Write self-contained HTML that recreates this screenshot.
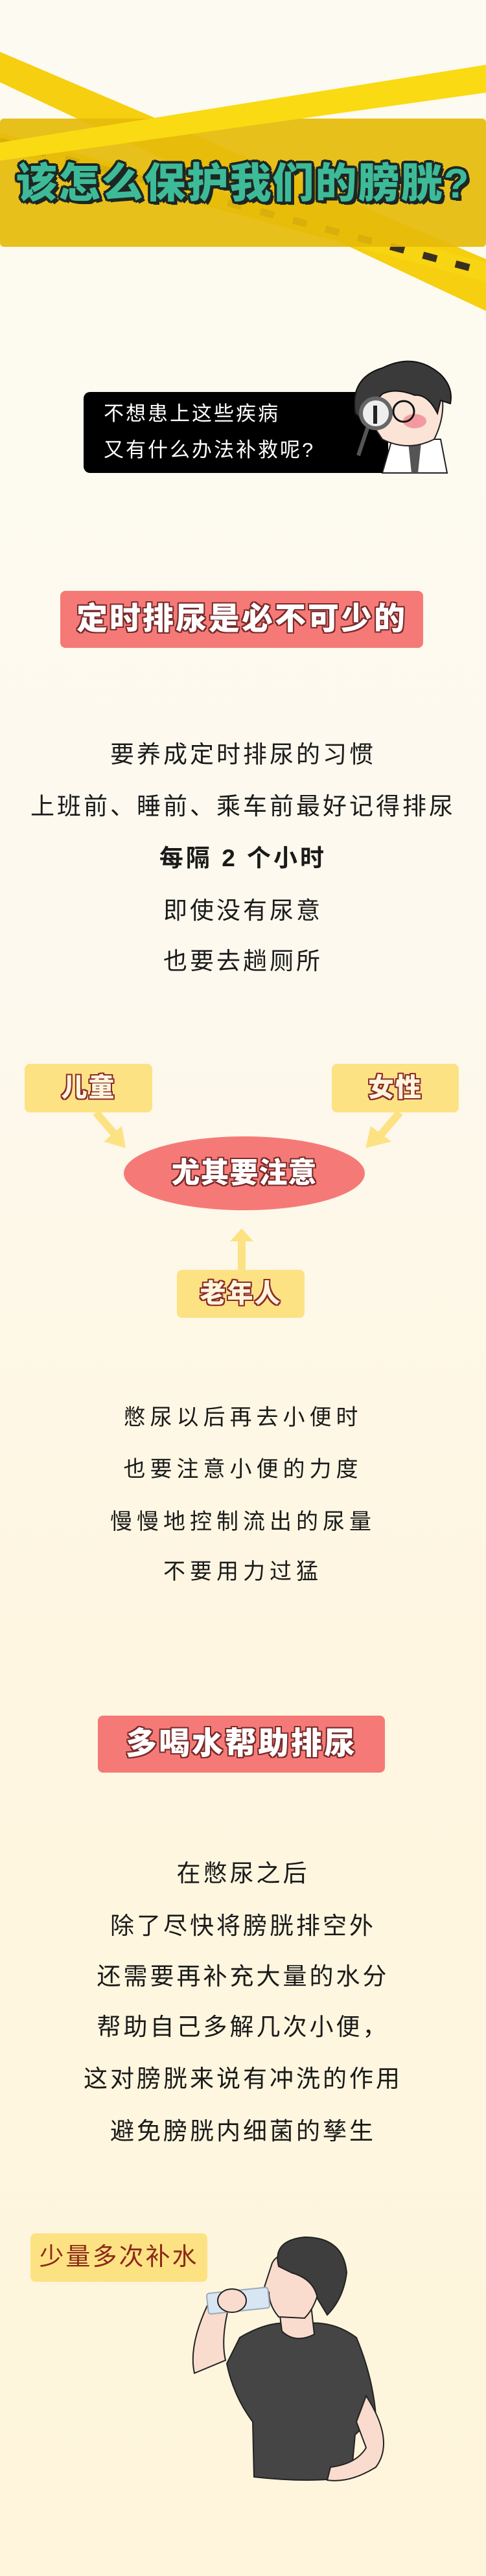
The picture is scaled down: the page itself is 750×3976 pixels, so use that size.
<!DOCTYPE html>
<html><head><meta charset="utf-8">
<style>
*{margin:0;padding:0;box-sizing:border-box}
body{width:750px;height:3976px;position:relative;overflow:hidden;background:linear-gradient(#fdfaf1 0,#fdf9ee 1500px,#fef6e0 2600px,#fef5dc 3976px);font-family:"Liberation Sans","Noto Sans CJK SC",sans-serif}
.abs{position:absolute}
.t{position:absolute;left:0;width:750px;text-align:center;color:#1a1a1a;font-size:37px;letter-spacing:4px;line-height:50px}
.hdr{position:absolute;background:#f57a77;border-radius:8px;color:#fff;font-weight:900;font-size:48px;letter-spacing:3px;text-align:center;
text-shadow:2px 0 #7a2a2a,-2px 0 #7a2a2a,0 2px #7a2a2a,0 -2px #7a2a2a,2px 2px #7a2a2a,-2px -2px #7a2a2a,2px -2px #7a2a2a,-2px 2px #7a2a2a}
.yb{position:absolute;background:#fde283;border-radius:8px;text-align:center;font-weight:900;font-size:40px;color:#fff5dc;letter-spacing:2px;
text-shadow:2px 0 #8a2b2b,-2px 0 #8a2b2b,0 2px #8a2b2b,0 -2px #8a2b2b,2px 2px #8a2b2b,-2px -2px #8a2b2b,2px -2px #8a2b2b,-2px 2px #8a2b2b}
</style></head><body>

<svg class="abs" style="left:0;top:0" width="750" height="760">
  <!-- tapes -->
  <polygon points="0,80 750,400 750,480 0,127" fill="#f5cf10"/>
  <polygon points="0,205 750,405 750,435 0,232" fill="#f7d512"/>
  <g stroke="#3a3020" stroke-width="11" stroke-dasharray="22 30">
    <line x1="0" y1="218" x2="750" y2="420"/>
  </g>
  <rect x="0" y="183" width="750" height="198" rx="6" fill="#e6bb0a" opacity="0.92"/>
  <polygon points="0,220 750,100 750,143 0,248" fill="#fada12"/>
  <!-- speech box -->
  <rect x="129" y="605" width="470" height="125" rx="10" fill="#000"/>
  <text x="160" y="649" fill="#fff" font-size="31" font-family="Liberation Sans,Noto Sans CJK SC,sans-serif" letter-spacing="3">不想患上这些疾病</text>
  <text x="160" y="705" fill="#fff" font-size="31" font-family="Liberation Sans,Noto Sans CJK SC,sans-serif" letter-spacing="3">又有什么办法补救呢?</text>
  <!-- doctor -->
  <g transform="translate(0,38)">
  <polygon points="590,692 605,640 680,640 690,692" fill="#fff" stroke="#222" stroke-width="2"/>
  <polygon points="630,645 650,645 645,692 635,692" fill="#555"/>
  <path d="M570,610 Q565,560 600,555 L680,560 Q690,600 670,640 Q630,660 590,640 Z" fill="#fbe3d6" stroke="#222" stroke-width="2"/>
  <ellipse cx="640" cy="612" rx="18" ry="11" fill="#f29aa0"/>
  <path d="M548,600 Q540,545 590,530 Q640,505 680,540 Q700,560 695,585 L680,580 L675,600 Q660,570 640,572 Q610,560 590,570 Q575,585 560,612 Z" fill="#3a3a3a" stroke="#111" stroke-width="2"/>
  <circle cx="623" cy="597" r="16" fill="none" stroke="#111" stroke-width="3"/>
  <line x1="568" y1="620" x2="553" y2="665" stroke="#555" stroke-width="6"/>
  <circle cx="580" cy="600" r="23" fill="#eee" stroke="#666" stroke-width="6"/>
  <rect x="576" y="588" width="6" height="28" fill="#222"/>
  </g>
</svg>

<div class="abs" style="left:0;top:246px;width:750px;text-align:center;font-size:64px;font-weight:900;letter-spacing:2px;color:#3dbb98;line-height:74px;
text-shadow:4px 0 #1e2623,-4px 0 #1e2623,0 4px #1e2623,0 -4px #1e2623,3px 3px #1e2623,-3px -3px #1e2623,3px -3px #1e2623,-3px 3px #1e2623,5px 5px #1e2623">该怎么保护我们的膀胱?</div>

<div class="hdr" style="left:93px;top:912px;width:560px;height:88px;line-height:88px">定时排尿是必不可少的</div>

<div class="t" style="top:1140px">要养成定时排尿的习惯</div>
<div class="t" style="top:1220px">上班前、睡前、乘车前最好记得排尿</div>
<div class="t" style="top:1300px;font-weight:bold">每隔 2 个小时</div>
<div class="t" style="top:1381px">即使没有尿意</div>
<div class="t" style="top:1459px">也要去趟厕所</div>

<svg class="abs" style="left:0;top:1620px" width="750" height="420">
  <path d="M148,97 L178,132" stroke="#fde283" stroke-width="12"/>
  <polygon points="160,142 194,152 188,118" fill="#fde283"/>
  <path d="M617,97 L587,132" stroke="#fde283" stroke-width="12"/>
  <polygon points="604,142 564,152 572,118" fill="#fde283"/>
  <rect x="367" y="290" width="12" height="52" fill="#fde283"/>
  <polygon points="355,296 391,296 373,276" fill="#fde283"/>
  <ellipse cx="377" cy="191" rx="186" ry="57" fill="#f57a77"/>
</svg>
<div class="yb" style="left:38px;top:1642px;width:197px;height:75px;line-height:75px">儿童</div>
<div class="yb" style="left:512px;top:1642px;width:196px;height:75px;line-height:75px">女性</div>
<div class="yb" style="left:273px;top:1960px;width:197px;height:74px;line-height:74px">老年人</div>
<div class="abs" style="left:191px;top:1783px;width:372px;text-align:center;line-height:56px;font-size:44px;font-weight:900;color:#fff;letter-spacing:1px;
text-shadow:2px 0 #7a2a2a,-2px 0 #7a2a2a,0 2px #7a2a2a,0 -2px #7a2a2a,2px 2px #7a2a2a,-2px -2px #7a2a2a,2px -2px #7a2a2a,-2px 2px #7a2a2a">尤其要注意</div>

<div class="t" style="top:2163px;font-size:34px;letter-spacing:7px">憋尿以后再去小便时</div>
<div class="t" style="top:2243px;font-size:34px;letter-spacing:7px">也要注意小便的力度</div>
<div class="t" style="top:2324px;font-size:34px;letter-spacing:7px">慢慢地控制流出的尿量</div>
<div class="t" style="top:2401px;font-size:34px;letter-spacing:7px">不要用力过猛</div>

<div class="hdr" style="left:151px;top:2648px;width:443px;height:88px;line-height:88px">多喝水帮助排尿</div>

<div class="t" style="top:2867px">在憋尿之后</div>
<div class="t" style="top:2948px">除了尽快将膀胱排空外</div>
<div class="t" style="top:3026px">还需要再补充大量的水分</div>
<div class="t" style="top:3104px">帮助自己多解几次小便，</div>
<div class="t" style="top:3184px">这对膀胱来说有冲洗的作用</div>
<div class="t" style="top:3265px">避免膀胱内细菌的孳生</div>

<div class="abs" style="left:47px;top:3447px;width:273px;height:75px;background:#fde283;border-radius:8px;text-align:center;line-height:75px;font-size:38px;color:#8b2a1a;letter-spacing:3px">少量多次补水</div>

<svg class="abs" style="left:280px;top:3438px" width="340" height="420">
  <path d="M20,225 Q10,180 45,110 L75,115 Q60,170 68,205 Z" fill="#f9dccd" stroke="#222" stroke-width="2"/>
  <path d="M90,170 Q140,140 180,150 Q230,140 270,170 Q295,230 300,290 L268,320 L262,385 Q200,395 112,385 L110,300 Q80,260 70,210 Z" fill="#454545" stroke="#222" stroke-width="2"/>
  <path d="M285,260 Q330,330 300,370 Q260,395 225,390 L230,370 Q270,365 285,340 L270,300 Z" fill="#f9dccd" stroke="#222" stroke-width="2"/>
  <path d="M150,120 L200,120 L205,165 Q175,180 155,160 Z" fill="#f9dccd" stroke="#222" stroke-width="2"/>
  <path d="M140,55 Q150,35 190,40 L215,80 Q210,120 190,140 L150,138 Q135,120 135,100 L128,92 Z" fill="#f9dccd" stroke="#222" stroke-width="2"/>
  <path d="M150,60 Q140,20 190,15 Q250,15 255,70 Q250,110 225,135 L210,110 Q205,80 170,70 Z" fill="#3e3e3e" stroke="#222" stroke-width="2"/>
  <rect x="40" y="97" width="95" height="32" rx="4" fill="#d8e6f4" stroke="#9ab" stroke-width="2" transform="rotate(-6 88 113)"/>
  <ellipse cx="78" cy="113" rx="22" ry="18" fill="#f9dccd" stroke="#222" stroke-width="2"/>
</svg>

</body></html>
